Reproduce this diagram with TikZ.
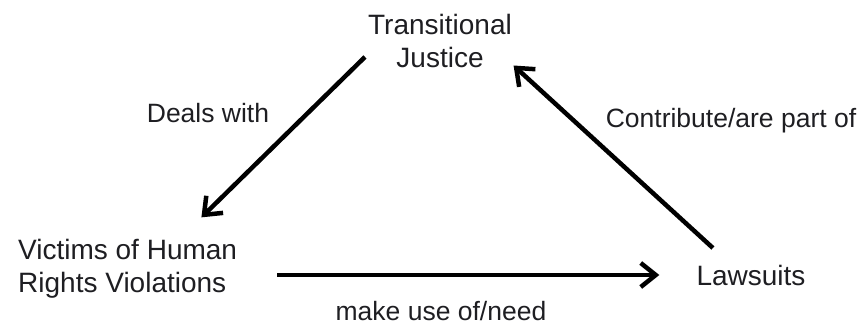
\documentclass[tikz,border=0pt]{standalone}
\usepackage{fontspec}
\setmainfont{Liberation Sans}
\usetikzlibrary{arrows.meta,positioning}
\definecolor{ink}{RGB}{30,30,34}

\begin{document}
\begin{tikzpicture}[x=1pt,y=1pt,concept/.style={text=ink,font=\fontsize{28}{33}\selectfont,inner sep=3pt},rel/.style={text=ink,font=\fontsize{26.5}{30}\selectfont,inner sep=0pt,anchor=base},arrow/.style={-{Straight Barb[length=15pt,width=24pt]},line width=4.5pt,draw=black}]
\useasboundingbox (0,0) rectangle (857,325);
\node[concept,align=center] (tj) at (440,284) {Transitional\\Justice};
\node[concept,align=left,anchor=west] (vic) at (15,56) {Victims of Human\\Rights Violations};
\node[concept,anchor=base] (law) at (751,40) {Lawsuits};
\node[rel] (dw) at (208,203) {Deals with};
\node[rel] (cp) at (731,198) {Contribute/are part of};
\node[rel] (mu) at (441,5) {make use of/need};
\draw[arrow,shorten >=27pt] (tj.192)--(vic.31);
\draw[arrow,shorten <=20pt,shorten >=-2pt] (law.150)--(tj.-19);
\draw[arrow,shorten <=37pt,shorten >=34pt] (vic.east |- law.west)--(law.west);
\end{tikzpicture}
\end{document}
